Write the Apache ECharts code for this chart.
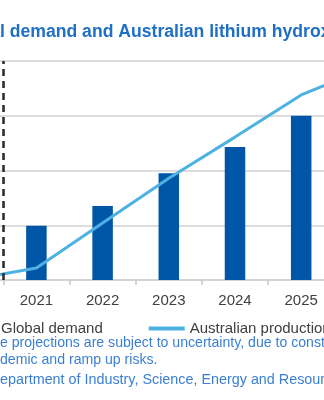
<!DOCTYPE html>
<html>
<head>
<meta charset="utf-8">
<script src="https://cdn.jsdelivr.net/npm/echarts@6/dist/echarts.min.js"></script>
<style>
html,body{margin:0;padding:0;background:#fff;}
#chart{width:324px;height:400px;}
</style>
</head>
<body>
<div id="chart"></div>
<script>
// ---- data ----
const categories = ['2020', '2021', '2022', '2023', '2024', '2025', '2026'];
const globalDemand = [null, 99, 135, 195, 243, 300, null];
const australianProduction = [0, 22, 104, 186, 261, 338, 388];
const yTicks = [0, 100, 200, 300, 400];
const projectionStart = 1; // boundary index where the dashed divider sits (start of 2021)

const titleText = 'Global demand and Australian lithium hydroxide production';
const noteLine1 = 'The projections are subject to uncertainty, due to construction,';
const noteLine2 = 'pandemic and ramp up risks.';
const sourceLine = 'Source: Department of Industry, Science, Energy and Resources (2021)';

// ---- layout ----
const FONT = '"Liberation Sans", Arial, sans-serif';
const W = 324;
const band = 66.2;
const gridLeft = 3.3 - band;
const gridRight = W - (gridLeft + categories.length * band);

const mctx = document.createElement('canvas').getContext('2d');
function tw(t, font) { mctx.font = font; return mctx.measureText(t).width; }

const titleFont = 'bold 17.6px ' + FONT;
const noteFont = '14.1px ' + FONT;
const sourceFont = '14.35px ' + FONT;

const chart = echarts.init(document.getElementById('chart'), null, {renderer: 'canvas'});
chart.setOption({
  animation: false,
  backgroundColor: '#ffffff',
  grid: {left: gridLeft, right: gridRight, top: 61, bottom: 120, outerBoundsMode: 'none', containLabel: false},
  xAxis: [{
    type: 'category',
    data: categories,
    boundaryGap: true,
    axisLine: {show: true, lineStyle: {color: '#d0d0d0', width: 1.5}},
    axisTick: {show: true, length: 5, lineStyle: {color: '#c8c8c8', width: 1.5}},
    axisLabel: {color: '#404040', fontSize: 15, fontFamily: FONT, margin: 13, interval: 0},
    splitLine: {show: false}
  }, {
    type: 'value',
    min: 0,
    max: categories.length,
    show: false
  }],
  yAxis: {
    type: 'value',
    min: yTicks[0],
    max: yTicks[yTicks.length - 1],
    interval: yTicks[1] - yTicks[0],
    axisLabel: {show: false},
    axisLine: {show: false},
    axisTick: {show: false},
    splitLine: {show: true, lineStyle: {color: '#d2d2d2', width: 1.5}}
  },
  legend: {
    left: 1 - 5 - 36 - 5,
    top: 316,
    width: 800,
    orient: 'horizontal',
    itemWidth: 36,
    itemHeight: 10,
    itemGap: 46,
    symbolKeepAspect: true,
    textStyle: {color: '#404040', fontSize: 15, fontFamily: FONT},
    data: [
      {name: 'Global demand', icon: 'rect'},
      {name: 'Australian production', icon: 'path://M0 0H36V4H0Z', itemStyle: {color: '#4db2e3'}}
    ]
  },
  series: [{
    name: 'Global demand',
    type: 'bar',
    data: globalDemand,
    barWidth: 20.5,
    itemStyle: {color: '#0056a6'},
    z: 2
  }, {
    name: 'Australian production',
    type: 'line',
    data: australianProduction,
    symbol: 'none',
    showSymbol: false,
    lineStyle: {color: '#4db2e3', width: 3},
    itemStyle: {color: '#4db2e3'},
    z: 3
  }, {
    type: 'line',
    xAxisIndex: 1,
    data: [],
    silent: true,
    markLine: {
      silent: true,
      symbol: 'none',
      label: {show: false},
      lineStyle: {color: '#2e2e2e', width: 2.6, type: [7, 5]},
      data: [{xAxis: projectionStart}]
    },
    z: 1
  }],
  graphic: [{
    type: 'text',
    left: -tw('Globa', titleFont),
    top: 23,
    style: {text: titleText, font: titleFont, fill: '#1f6fc6'}
  }, {
    type: 'text',
    left: -tw('Th', noteFont),
    top: 336,
    style: {text: noteLine1, font: noteFont, fill: '#3a7fd3'}
  }, {
    type: 'text',
    left: -tw('pan', noteFont),
    top: 353,
    style: {text: noteLine2, font: noteFont, fill: '#3a7fd3'}
  }, {
    type: 'text',
    left: -tw('Source: D', sourceFont),
    top: 373,
    style: {text: sourceLine, font: sourceFont, fill: '#3a7fd3'}
  }]
});
</script>
</body>
</html>
